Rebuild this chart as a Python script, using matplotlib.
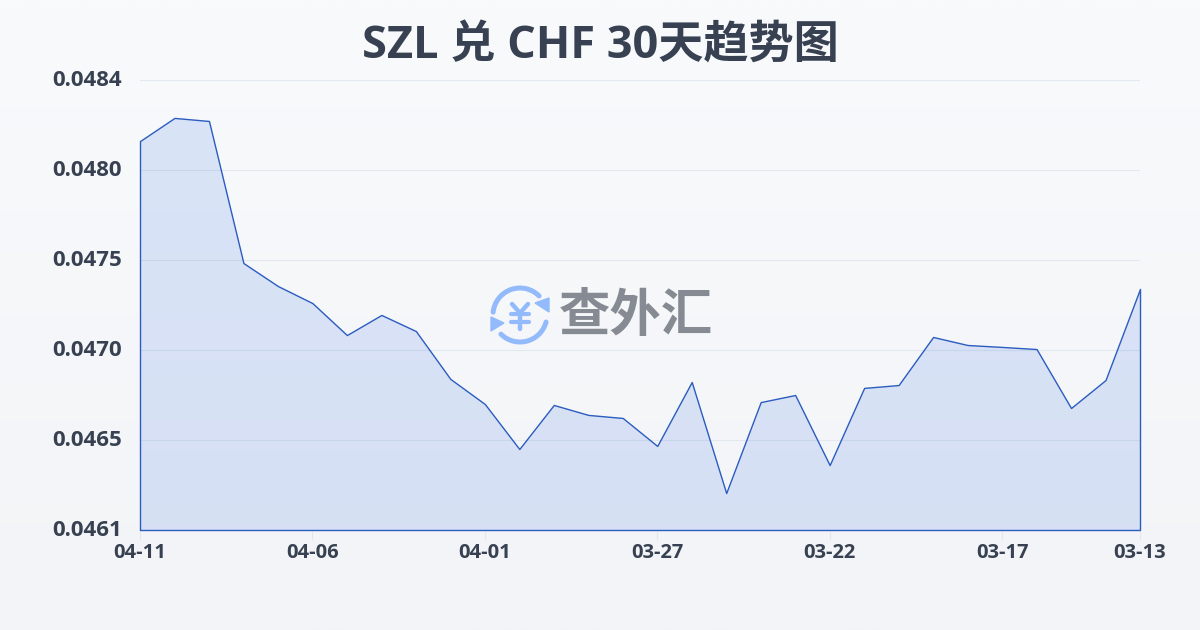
import matplotlib
matplotlib.use('Agg')
import matplotlib.pyplot as plt
import numpy as np
from matplotlib.patches import Arc, Polygon
from matplotlib.transforms import ScaledTranslation

plt.rcParams['font.family'] = ['Open Sans', 'Noto Sans CJK SC', 'DejaVu Sans']

title = 'SZL 兑 CHF 30天趋势图'
watermark = '查外汇'

# newest first, same as the x axis of the chart
dates = ['04-11', '04-10', '04-09', '04-08', '04-07', '04-06', '04-05', '04-04',
         '04-03', '04-02', '04-01', '03-31', '03-30', '03-29', '03-28', '03-27',
         '03-26', '03-25', '03-24', '03-23', '03-22', '03-21', '03-20', '03-19',
         '03-18', '03-17', '03-16', '03-15', '03-14', '03-13']
rates = [0.048111, 0.048232, 0.048216, 0.047474, 0.047354, 0.047265,
         0.047098, 0.047203, 0.047119, 0.046869, 0.046738, 0.046503,
         0.046733, 0.046681, 0.046665, 0.046519, 0.046853, 0.046273,
         0.046748, 0.046785, 0.046419, 0.046822, 0.046837, 0.047088,
         0.047046, 0.047036, 0.047025, 0.046717, 0.046863, 0.047339]
y_ticks = [0.04608, 0.04655, 0.04702, 0.04749, 0.04796, 0.04843]
y_labels = ['0.0461', '0.0465', '0.0470', '0.0475', '0.0480', '0.0484']
x_tick_idx = [0, 5, 10, 15, 20, 25, 29]

text_col = '#374151'
line_col = '#2b5cc0'
icon_col = '#93bbfb'

fig = plt.figure(figsize=(12, 6.3), dpi=100)

# background gradient
bg = fig.add_axes([0, 0, 1, 1], zorder=0)
top = np.array([249, 250, 252]) / 255
bottom = np.array([242, 244, 247]) / 255
grad = np.linspace(0, 1, 256)[:, None, None] * (bottom - top) + top
bg.imshow(grad, aspect='auto', extent=[0, 1, 0, 1])
bg.axis('off')

ax = fig.add_axes([140 / 1200, 1 - 530 / 630, 1000 / 1200, 450 / 630], zorder=1)
ax.patch.set_alpha(0)
x = np.arange(len(rates))
ax.fill_between(x, rates, y_ticks[0], facecolor=(40 / 255, 100 / 255, 225 / 255, 0.14),
                edgecolor=line_col, linewidth=1.0, clip_on=False, zorder=2)
ax.set_xlim(0, len(rates) - 1)
ax.set_ylim(y_ticks[0], y_ticks[-1])

ax.set_yticks(y_ticks)
ax.set_yticklabels(y_labels, fontsize=16, fontweight='bold', color=text_col)
ax.set_xticks(x_tick_idx)
ax.set_xticklabels([dates[i] for i in x_tick_idx], fontsize=14.5, fontweight='bold',
                   color=text_col)
ax.tick_params(axis='y', length=0, pad=13)
ax.tick_params(axis='x', length=7, width=0.8, color='#e2e8f0', pad=2.5)
# y labels sit a little above their gridlines
up = ScaledTranslation(0, 1.5 / 72, fig.dpi_scale_trans)
for lab in ax.get_yticklabels():
    lab.set_transform(lab.get_transform() + up)
ax.grid(axis='y', color='#e2e8f0', linewidth=0.8)
ax.set_axisbelow(True)
for s in ax.spines.values():
    s.set_visible(False)

fig.text(0.5, 1 - 46 / 630, title, ha='center', va='center', fontsize=32.5,
         fontweight='bold', color=text_col)

# watermark logo, in pixel coords
ov = fig.add_axes([0, 0, 1, 1], zorder=3)
ov.set_xlim(0, 1200)
ov.set_ylim(630, 0)
ov.axis('off')
cx, cy, r = 520, 315, 27
ov.add_patch(Arc((cx, cy), 2 * r, 2 * r, theta1=186, theta2=315, color=icon_col, lw=3.6,
                 capstyle='round'))
ov.add_patch(Arc((cx, cy), 2 * r, 2 * r, theta1=15, theta2=135, color=icon_col, lw=3.6,
                 capstyle='round'))
ov.add_patch(Polygon([[549, 298], [549, 312], [535, 303]], color=icon_col))
ov.add_patch(Polygon([[491, 317], [491, 331], [504, 323]], color=icon_col))
ov.plot([512, 520, 528], [304, 313, 304], color=icon_col, lw=3.2, solid_capstyle='round')
ov.plot([520, 520], [313, 329], color=icon_col, lw=3.2, solid_capstyle='round')
ov.plot([511, 529], [314, 314], color=icon_col, lw=3, solid_capstyle='round')
ov.plot([511, 529], [322, 322], color=icon_col, lw=3, solid_capstyle='round')
ov.text(636, 318, watermark, ha='center', va='center', fontsize=37, fontweight='bold',
        color='#868a92')

fig.savefig('out.png', dpi=100)
plt.close(fig)
